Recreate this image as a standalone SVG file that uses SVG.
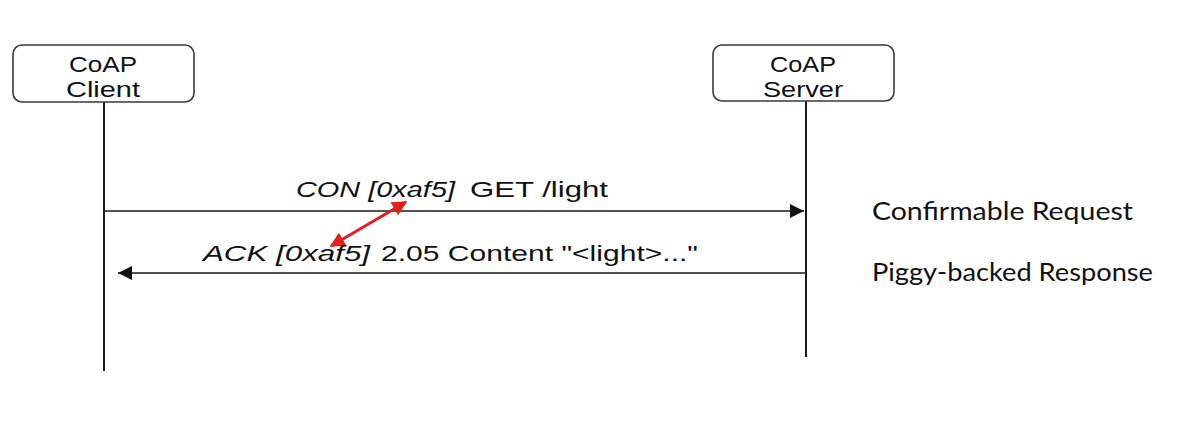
<svg xmlns="http://www.w3.org/2000/svg" width="1179" height="431" viewBox="0 0 1179 431">
  <defs>
    <style>
      .box { fill: #ffffff; stroke: #3a3a3a; stroke-width: 1.6; }
      .life { stroke: #1a1a1a; stroke-width: 2; fill: none; }
      .msg { stroke: #1a1a1a; stroke-width: 1.6; fill: none; }
      .lbl { font-family: "Liberation Sans", Arial, sans-serif; font-size: 22.5px; fill: #111; }
      .it { font-style: italic; }
      .note { font-family: Lato, "Open Sans", sans-serif; font-size: 25px; fill: #111; }
      .red { stroke: #e0201e; stroke-width: 3; fill: none; }
    </style>
    <marker id="ah" viewBox="0 0 10 10" refX="10" refY="5" markerWidth="25" markerHeight="14" markerUnits="userSpaceOnUse" orient="auto">
      <path d="M0,0 L10,5 L0,10 z" fill="#111"/>
    </marker>
    <marker id="rh" viewBox="0 0 10 10" refX="9" refY="5" markerWidth="18" markerHeight="15" markerUnits="userSpaceOnUse" orient="auto-start-reverse">
      <path d="M0,0 L10,5 L0,10 z" fill="#e0201e"/>
    </marker>
  </defs>
  <rect width="1179" height="431" fill="#ffffff"/>

  <g id="connectors">
    <line class="life" x1="104" y1="102" x2="104" y2="371"/>
    <line class="life" x1="806" y1="101" x2="806" y2="357"/>
    <line class="msg" x1="104" y1="211" x2="804" y2="211" marker-end="url(#ah)"/>
    <line class="msg" x1="806" y1="273" x2="118" y2="273" marker-end="url(#ah)"/>
    <line class="red" x1="331" y1="246" x2="406" y2="202" marker-start="url(#rh)" marker-end="url(#rh)"/>
  </g>

  <g id="client">
    <rect class="box" x="13" y="45" width="181" height="57" rx="9"/>
    <text class="lbl" x="103" y="72" text-anchor="middle" textLength="68" lengthAdjust="spacingAndGlyphs">CoAP</text>
    <text class="lbl" x="103" y="97" text-anchor="middle" textLength="74" lengthAdjust="spacingAndGlyphs">Client</text>
  </g>

  <g id="server">
    <rect class="box" x="713" y="45" width="181" height="56" rx="9"/>
    <text class="lbl" x="803" y="72" text-anchor="middle" textLength="66" lengthAdjust="spacingAndGlyphs">CoAP</text>
    <text class="lbl" x="803" y="97" text-anchor="middle" textLength="80" lengthAdjust="spacingAndGlyphs">Server</text>
  </g>

  <g id="msg-con">
    <text class="lbl it" x="296" y="197" textLength="159" lengthAdjust="spacingAndGlyphs">CON [0xaf5]</text>
    <text class="lbl" x="470" y="197" textLength="138" lengthAdjust="spacingAndGlyphs">GET /light</text>
  </g>

  <g id="msg-ack">
    <text class="lbl it" x="203" y="261" textLength="167" lengthAdjust="spacingAndGlyphs">ACK [0xaf5]</text>
    <text class="lbl" x="381" y="261" textLength="317" lengthAdjust="spacingAndGlyphs">2.05 Content "&lt;light&gt;..."</text>
  </g>

  <g id="notes">
    <text class="note" x="872" y="220" textLength="261" lengthAdjust="spacingAndGlyphs">Confirmable Request</text>
    <text class="note" x="872" y="281" textLength="281" lengthAdjust="spacingAndGlyphs">Piggy-backed Response</text>
  </g>
</svg>
